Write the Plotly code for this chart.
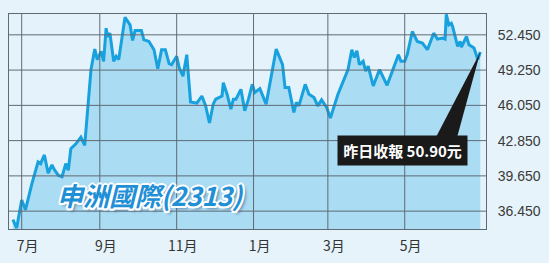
import plotly.graph_objects as go
import pandas as pd

dates = [
    "2016-06-24", "2016-06-27", "2016-07-01", "2016-07-04", "2016-07-09", "2016-07-14",
    "2016-07-16", "2016-07-19", "2016-07-22", "2016-07-25", "2016-07-27", "2016-07-30",
    "2016-08-02", "2016-08-05", "2016-08-07", "2016-08-09", "2016-08-13", "2016-08-17",
    "2016-08-20", "2016-08-21", "2016-08-25", "2016-08-28", "2016-08-30", "2016-09-02",
    "2016-09-04", "2016-09-06", "2016-09-07", "2016-09-09", "2016-09-12", "2016-09-14",
    "2016-09-16", "2016-09-21", "2016-09-25", "2016-09-27", "2016-09-29", "2016-10-04",
    "2016-10-06", "2016-10-10", "2016-10-14", "2016-10-17", "2016-10-20", "2016-10-23",
    "2016-10-26", "2016-10-28", "2016-11-01", "2016-11-03", "2016-11-06", "2016-11-09",
    "2016-11-12", "2016-11-17", "2016-11-21", "2016-11-24", "2016-11-27", "2016-11-30",
    "2016-12-02", "2016-12-07", "2016-12-08", "2016-12-11", "2016-12-14", "2016-12-16",
    "2016-12-18", "2016-12-22", "2016-12-25", "2016-12-28", "2016-12-31", "2017-01-02",
    "2017-01-06", "2017-01-11", "2017-01-15", "2017-01-19", "2017-01-24", "2017-01-26",
    "2017-01-29", "2017-02-02", "2017-02-04", "2017-02-06", "2017-02-11", "2017-02-14",
    "2017-02-18", "2017-02-21", "2017-02-24", "2017-02-28", "2017-03-03", "2017-03-09",
    "2017-03-17", "2017-03-20", "2017-03-22", "2017-03-24", "2017-03-26", "2017-03-29",
    "2017-03-31", "2017-04-02", "2017-04-06", "2017-04-11", "2017-04-17", "2017-04-23",
    "2017-04-26", "2017-04-28", "2017-05-01", "2017-05-03", "2017-05-07", "2017-05-11",
    "2017-05-15", "2017-05-19", "2017-05-24", "2017-05-27", "2017-05-31", "2017-06-02",
    "2017-06-03", "2017-06-05", "2017-06-07", "2017-06-08", "2017-06-12", "2017-06-14",
    "2017-06-15", "2017-06-19", "2017-06-21", "2017-06-25", "2017-06-28", "2017-06-30",
]
prices = [
    35.67, 34.92, 37.47, 36.56, 38.90, 40.92,
    40.76, 41.55, 39.90, 40.65, 40.20, 39.71,
    39.57, 40.76, 40.16, 42.11, 42.56, 43.16,
    42.41, 43.91, 49.30, 51.16, 50.20, 50.95,
    50.05, 53.05, 52.30, 52.60, 50.05, 50.50,
    50.20, 54.04, 53.35, 51.94, 52.84, 52.84,
    52.00, 51.85, 51.10, 49.37, 51.10, 51.10,
    49.84, 49.75, 50.50, 49.46, 48.70, 50.65,
    46.36, 46.25, 46.90, 46.00, 44.45, 46.16,
    46.61, 46.90, 48.10, 47.06, 45.71, 46.61,
    46.61, 47.50, 45.56, 46.61, 47.96, 47.21,
    47.57, 46.16, 48.70, 51.16, 49.75, 47.66,
    47.66, 45.41, 46.31, 46.00, 47.96, 47.06,
    46.76, 46.00, 46.55, 45.86, 44.90, 47.06,
    49.30, 51.10, 50.40, 51.00, 49.75, 50.05,
    49.15, 49.60, 47.81, 49.30, 47.87, 49.60,
    50.65, 50.05, 50.05, 50.65, 52.75, 51.85,
    51.70, 51.10, 52.60, 52.06, 52.15, 52.06,
    54.30, 53.35, 53.50, 53.20, 51.40, 51.85,
    51.34, 52.30, 51.55, 51.25, 50.20, 50.90,
]
month_ticks = ["2016-07-01", "2016-09-01", "2016-11-01", "2017-01-01", "2017-03-01", "2017-05-01"]
month_labels = ["7月", "9月", "11月", "1月", "3月", "5月"]
price_ticks = [36.45, 39.65, 42.85, 46.05, 49.25, 52.45]
price_labels = ["36.450", "39.650", "42.850", "46.050", "49.250", "52.450"]
title_text = "申洲國際(2313)"
note_text = "昨日收報 50.90元"

W, H = 549, 263
ML, MR, MT, MB = 8, 53, 14, 32
x_range = ["2016-06-20 22:00:00", "2017-07-04 12:00:00"]
y_range = [34.83, 54.34]
pw, ph = W - ML - MR, H - MT - MB
x0t, x1t = pd.Timestamp(x_range[0]), pd.Timestamp(x_range[1])

def px2x(px):
    return x0t + (x1t - x0t) * ((px - ML) / pw)

def px2y(py):
    return y_range[0] + (y_range[1] - y_range[0]) * ((MT + ph - py) / ph)

def dstr(t):
    return pd.Timestamp(t).strftime("%Y-%m-%d_%H:%M:%S")

grid = "#5f6b74"
fig = go.Figure()
fig.add_trace(go.Scatter(
    x=dates, y=prices, mode="lines",
    line=dict(color="#17a1de", width=3),
    fill="tozeroy", fillcolor="#aadcf4",
    hoverinfo="skip", showlegend=False,
))

fig.update_layout(
    width=W, height=H,
    margin=dict(l=ML, r=MR, t=MT, b=MB),
    paper_bgcolor="#e6f3fa",
    plot_bgcolor="#e4f3fb",
    xaxis=dict(
        type="date", range=x_range, tickvals=month_ticks, ticktext=month_labels,
        showgrid=False,
        showline=True, linecolor=grid, linewidth=1, mirror=True,
        ticks="", tickfont=dict(family="Noto Sans CJK TC", size=14, color="#333333"),
        ticklabelshift=6, ticklabelstandoff=4,
        zeroline=False, fixedrange=True,
    ),
    yaxis=dict(
        range=y_range, side="right", tickvals=price_ticks, ticktext=price_labels,
        showgrid=False,
        showline=True, linecolor=grid, linewidth=1, mirror=True,
        ticks="", tickfont=dict(family="Liberation Sans, Arial", size=14, color="#3a3a3a"),
        ticklabelstandoff=8,
        zeroline=False, fixedrange=True,
    ),
)

# gridlines built from the tick arrays, drawn over the filled area
for t in month_ticks:
    fig.add_shape(type="line", xref="x", yref="paper", x0=t, x1=t, y0=0, y1=1,
                  line=dict(color=grid, width=1), layer="above")
for v in price_ticks:
    fig.add_shape(type="line", xref="paper", yref="y", x0=0, x1=1, y0=v, y1=v,
                  line=dict(color=grid, width=1), layer="above")

# wedge from note box to last close
tip_x, tip_y = dates[-1], prices[-1]
bl_x, bl_y = px2x(444), px2y(140)
br_x, br_y = px2x(466), px2y(140)
fig.add_shape(
    type="path",
    path=f"M {dstr(tip_x)},{tip_y} L {dstr(bl_x)},{bl_y} L {dstr(br_x)},{br_y} Z",
    xref="x", yref="y", fillcolor="#1a1a1a", line=dict(width=0), layer="above",
)

fig.add_annotation(
    text=f"<b>{note_text}</b>", xref="paper", yref="paper",
    x=(411 - ML) / pw, y=(MT + ph - 152) / ph, xanchor="center", yanchor="middle",
    showarrow=False, bgcolor="#1a1a1a", borderpad=4, width=121, height=21,
    font=dict(family="Noto Sans CJK TC", size=15, color="white"),
)

outline = "#ffffff"
shadow = ", ".join([f"{dx}px {dy}px 0 {outline}" for dx, dy in
                    [(2, 0), (-2, 0), (0, 2), (0, -2), (1.5, 1.5), (-1.5, -1.5), (1.5, -1.5), (-1.5, 1.5)]])
shadow += ", 3px 3px 3px rgba(40,70,110,0.55)"
fig.add_annotation(
    text=f"<b><i>{title_text}</i></b>", xref="paper", yref="paper",
    x=(152 - ML) / pw, y=(MT + ph - 196) / ph, xanchor="center", yanchor="middle",
    showarrow=False,
    font=dict(family="Noto Sans CJK TC", size=26, color="#1f8fd6", shadow=shadow),
)

fig.write_html("out.html")
